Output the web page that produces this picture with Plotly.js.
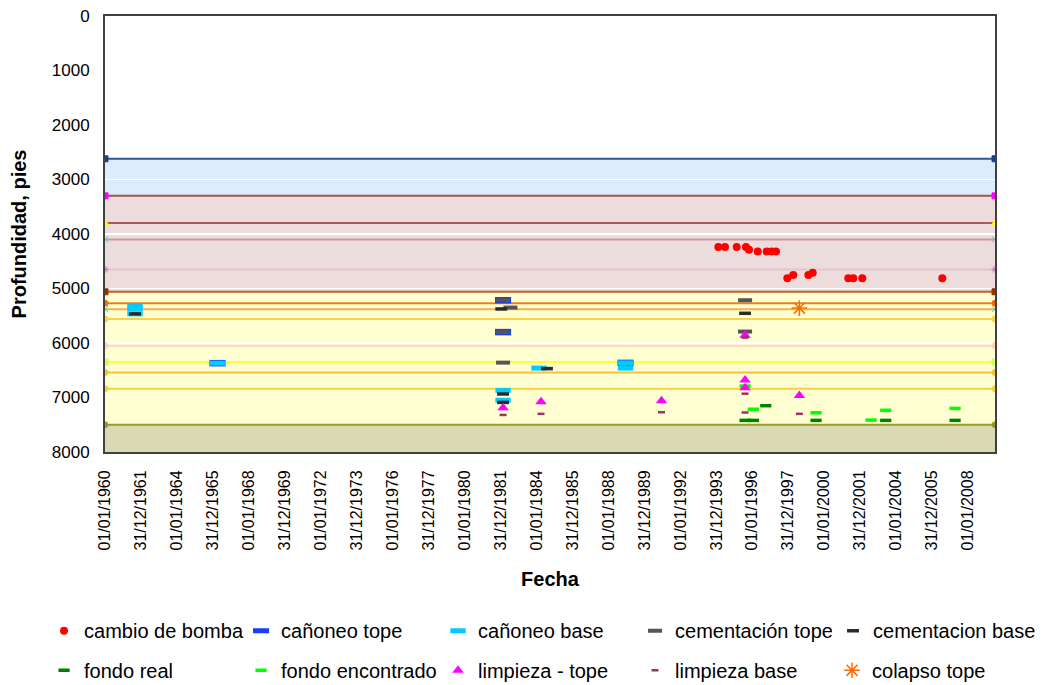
<!DOCTYPE html>
<html><head><meta charset="utf-8">
<script src="https://cdn.plot.ly/plotly-3.0.1.min.js"></script>
<style>html,body{margin:0;padding:0;background:#fff}#chart{width:1047px;height:685px}</style>
</head><body><div id="chart"></div>
<script>
// ---------------- DATA ----------------
const etiquetasX = ['01/01/1960','31/12/1961','01/01/1964','31/12/1965','01/01/1968','31/12/1969','01/01/1972','31/12/1973','01/01/1976','31/12/1977','01/01/1980','31/12/1981','01/01/1984','31/12/1985','01/01/1988','31/12/1989','01/01/1992','31/12/1993','01/01/1996','31/12/1997','01/01/2000','31/12/2001','01/01/2004','31/12/2005','01/01/2008'];
const ticksY = [0,1000,2000,3000,4000,5000,6000,7000,8000];

const bombaFecha = ['1994-02-10','1994-06-25','1995-02-18','1995-08-25','1995-10-27','1996-04-20','1996-10-19','1997-01-30','1997-04-27','1997-12-13','1998-04-12','1999-02-13','1999-05-12','2001-05-04','2001-08-14','2002-02-13','2006-07-27'];
const bombaProf  = [4240,4240,4240,4240,4290,4320,4320,4320,4320,4810,4750,4750,4710,4810,4810,4810,4810];

const canTopeFecha = ['1966-04-04','1982-02-20','1982-02-20','1988-12-13'];
const canTopeProf  = [6370,5215,5800,6365];

const canBaseFecha = ['1961-09-01','1961-09-01','1961-09-01','1966-04-04','1982-02-20','1982-02-20','1984-02-20','1988-12-13','1988-12-13'];
const canBaseProf  = [5330,5375,5465,6370,6870,7050,6460,6365,6460];

const cemTopeFecha = ['1982-02-20','1982-07-20','1982-02-20','1982-02-20','1995-08-07','1995-08-07'];
const cemTopeProf  = [5215,5350,5800,6360,5215,5790];

const cemBaseFecha = ['1961-09-01','1982-01-15','1982-02-20','1982-02-20','1984-07-30','1995-08-07'];
const cemBaseProf  = [5465,5375,6935,7090,6470,5455];

const fondoRealFecha = ['1995-08-07','1996-01-22','1996-09-30','1999-07-19','2003-06-03','2007-04-12'];
const fondoRealProf  = [7420,7420,7150,7420,7420,7420];

const fondoEncFecha = ['1995-08-07','1996-01-22','1999-07-19','2002-08-10','2003-06-03','2007-04-12'];
const fondoEncProf  = [6790,7215,7280,7415,7235,7200];

const limpTopeFecha = ['1982-02-20','1984-04-01','1990-12-13','1995-08-07','1995-08-07','1995-08-07','1998-08-14'];
const limpTopeProf  = [7190,7080,7060,5860,6680,6820,6965];

const limpBaseFecha = ['1982-02-20','1984-04-01','1990-12-13','1995-08-07','1995-08-07','1995-08-07','1998-08-14'];
const limpBaseProf  = [7320,7300,7270,5900,6930,7275,7300];

const colapsoFecha = ['1998-08-14'];
const colapsoProf  = [5360];

// formation horizons (depth of each horizontal line) and shaded zones
const horizonteProf = [2620,3300,3800,4100,4650,5060,5270,5380,5560,6050,6350,6540,6840,7500];
const zonaTope = [2620,3300,5060,7500];
const zonaBase = [3300,5060,7500,8000];

// ---------------- STYLES ----------------
const xMin = '1960-01-01', xMax = '2009-07-01';
const horizonteColor = ['#2f5597','#a0524f','#a85a5a','#c99a9a','#e3c3cf','#c0622b','#e8821e','#f2b24a','#f8d24a','#ffd4b8','#ffff33','#f7c042','#f9d13e','#9a9a28'];
const horizonteMarcaColor = ['#1c3f94','#ff00ff','#ffff00','#33cccc','#cc66cc','#993300','#ff6600','#33cccc','#f8d24a','#ffd4b8','#ccff66','#f7c042','#f9d13e','#9a9a28'];
const horizonteMarcaSimb = ['square','square','triangle-up','x-thin-open','asterisk-open','square','circle','x-thin-open','circle','circle','square','circle','circle','circle'];
const zonaColor = ['#ddecfc','#ecdcdc','#ffffd1','#d9d9b3'];
const FONT = 'Liberation Sans, Arial, sans-serif';

const traces = [];
horizonteProf.forEach((p, i) => {
  traces.push({type:'scatter', mode:'lines+markers', x:[xMin, xMax], y:[p, p], showlegend:false, hoverinfo:'skip',
    line:{color:horizonteColor[i], width:2},
    marker:{symbol:horizonteMarcaSimb[i], size:6, color:horizonteMarcaColor[i], line:{color:horizonteMarcaColor[i], width:1}}});
});

function dash(name, x, y, color, size, width, legend) {
  return {type:'scatter', mode:'markers', name, x, y, legend,
    marker:{symbol:'line-ew', size, color, line:{color, width}}};
}
traces.push({type:'scatter', mode:'markers', name:'cambio de bomba', x:bombaFecha, y:bombaProf, legend:'legend',
  marker:{symbol:'circle', size:8, color:'#ff0000'}});
traces.push(dash('cañoneo tope', canTopeFecha, canTopeProf, '#1a3cff', 11.5, 6.5, 'legend'));
traces.push(dash('cañoneo base', canBaseFecha, canBaseProf, '#00ccff', 11, 5, 'legend'));
traces.push(dash('cementación tope', cemTopeFecha, cemTopeProf, '#555555', 10, 4, 'legend'));
traces.push(dash('cementacion base', cemBaseFecha, cemBaseProf, '#2a2a2a', 8.5, 3.5, 'legend3'));
traces.push(dash('fondo real', fondoRealFecha, fondoRealProf, '#008000', 8, 3.5, 'legend2'));
traces.push(dash('fondo encontrado', fondoEncFecha, fondoEncProf, '#00ff00', 8, 3.5, 'legend2'));
traces.push({type:'scatter', mode:'markers', name:'limpieza - tope', x:limpTopeFecha, y:limpTopeProf, legend:'legend2',
  marker:{symbol:'triangle-up', size:10, color:'#ff00ff'}});
traces.push(dash('limpieza base', limpBaseFecha, limpBaseProf, '#993366', 5, 2.5, 'legend2'));
traces.push({type:'scatter', mode:'markers', name:'colapso tope', x:colapsoFecha, y:colapsoProf, legend:'legend2',
  marker:{symbol:'asterisk-open', size:13, color:'#ff6a00', line:{color:'#ff6a00', width:1.5}}});

const shapes = zonaTope.map((t, i) => ({type:'rect', layer:'below', xref:'paper', yref:'y', x0:0, x1:1, y0:t, y1:zonaBase[i],
  fillcolor:zonaColor[i], line:{width:0}}));

const tickvalsX = etiquetasX.map(s => { const [d, m, y] = s.split('/'); return `${y}-${m}-${d}`; });

const legendBase = {orientation:'h', xanchor:'left', yanchor:'top', entrywidth:152, entrywidthmode:'pixels',
  font:{family:FONT, size:20, color:'#000'}, bgcolor:'rgba(0,0,0,0)', itemclick:false, itemdoubleclick:false};

const layout = {
  width:1047, height:685,
  margin:{l:105, r:52, t:16, b:233, autoexpand:false},
  paper_bgcolor:'#ffffff', plot_bgcolor:'#ffffff',
  font:{family:FONT, color:'#000'},
  showlegend:true,
  xaxis:{type:'date', range:[xMin, xMax], tickmode:'array', tickvals:tickvalsX, ticktext:etiquetasX, automargin:false,
    tickangle:-90, tickfont:{family:FONT, size:16}, ticks:'', ticklabelstandoff:10,
    showgrid:false, zeroline:false, showline:true, linecolor:'#404040', linewidth:2, mirror:true,
    title:{text:'<b>Fecha</b>', font:{family:FONT, size:20}, standoff:23}},
  yaxis:{range:[8000, 0], tickmode:'array', tickvals:ticksY, tickfont:{family:FONT, size:17}, ticks:'', ticklabelstandoff:10, automargin:false,
    showgrid:true, gridcolor:'#ffffff', gridwidth:1.5, zeroline:false, showline:true, linecolor:'#404040', linewidth:2, mirror:true,
    title:{text:'<b>Profundidad, pies</b>', font:{family:FONT, size:20}, standoff:20}},
  legend:Object.assign({}, legendBase, {x:-0.0685, y:-0.365}),
  legend2:Object.assign({}, legendBase, {x:-0.0685, y:-0.456}),
  legend3:{orientation:'h', xanchor:'left', yanchor:'top', x:0.818, y:-0.365,
    font:{family:FONT, size:20, color:'#000'}, bgcolor:'rgba(0,0,0,0)', itemclick:false, itemdoubleclick:false},
  shapes
};

Plotly.newPlot('chart', traces, layout, {displayModeBar:false, staticPlot:true});
</script></body></html>
